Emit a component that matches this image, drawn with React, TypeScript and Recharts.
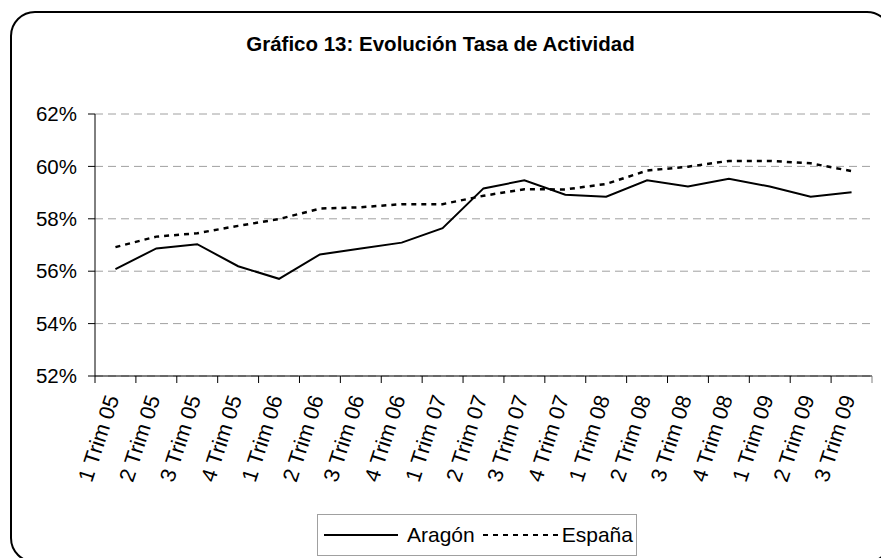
import React from 'react';
import {
  ComposedChart,
  Line,
  XAxis,
  YAxis,
  CartesianGrid,
  Legend,
} from 'recharts';

const categories = [
  '1 Trim 05', '2 Trim 05', '3 Trim 05', '4 Trim 05',
  '1 Trim 06', '2 Trim 06', '3 Trim 06', '4 Trim 06',
  '1 Trim 07', '2 Trim 07', '3 Trim 07', '4 Trim 07',
  '1 Trim 08', '2 Trim 08', '3 Trim 08', '4 Trim 08',
  '1 Trim 09', '2 Trim 09', '3 Trim 09',
];

const aragon = [
  56.08, 56.87, 57.03, 56.19, 55.71, 56.64, 56.87, 57.09, 57.64, 59.16,
  59.47, 58.92, 58.84, 59.47, 59.23, 59.53, 59.23, 58.84, 59.01,
];

const espana = [
  56.92, 57.32, 57.45, 57.73, 57.99, 58.39, 58.44, 58.56, 58.56, 58.88,
  59.13, 59.12, 59.33, 59.84, 59.99, 60.21, 60.21, 60.12, 59.82,
];

const yTicks = [52, 54, 56, 58, 60, 62];

const chartData = categories.map((name, i) => ({
  name,
  'Aragón': aragon[i],
  'España': espana[i],
}));

const FONT = '"Liberation Sans", Arial, sans-serif';
const W = 881;
const H = 558;
const MARGIN = { top: 114, right: 9, left: 0, bottom: 82 };
const Y_AXIS_W = 95;

function XTick(props: any) {
  const { x, y, payload } = props;
  const plotW = W - MARGIN.left - MARGIN.right - Y_AXIS_W;
  const half = payload.offset || plotW / categories.length / 2;
  const last = payload.index === categories.length - 1;
  const tx = x + 4;
  const ty = y + 22;
  return (
    <g>
      <line x1={x - half} x2={x - half} y1={y} y2={y + 7} stroke="#000" strokeWidth={1} />
      {last && <line x1={x + half} x2={x + half} y1={y} y2={y + 7} stroke="#808080" strokeWidth={1} />}
      <text
        x={tx}
        y={ty}
        textAnchor="end"
        transform={`rotate(-72, ${tx}, ${ty})`}
        fontSize={21.5}
        fontFamily={FONT}
        fill="#000"
      >
        {payload.value}
      </text>
    </g>
  );
}

function LegendBox() {
  return (
    <div
      style={{
        boxSizing: 'border-box',
        width: 320,
        height: 42,
        border: '1px solid #a0a0a0',
        display: 'flex',
        alignItems: 'center',
        fontFamily: FONT,
        fontSize: 21,
        color: '#000',
        paddingLeft: 6,
      }}
    >
      <svg width={74} height={10}>
        <line x1={0} x2={74} y1={5} y2={5} stroke="#000" strokeWidth={2} />
      </svg>
      <span style={{ marginLeft: 9 }}>Aragón</span>
      <svg width={76} height={10} style={{ marginLeft: 8 }}>
        <line x1={0} x2={76} y1={5} y2={5} stroke="#000" strokeWidth={2} strokeDasharray="5 5" />
      </svg>
      <span style={{ marginLeft: 3 }}>España</span>
    </div>
  );
}

export default function App() {
  return (
    <div style={{ position: 'absolute', left: 0, top: 0, width: W, height: H, overflow: 'hidden', background: '#fff' }}>
      <div
        style={{
          position: 'absolute',
          left: 10,
          top: 11,
          width: 882,
          height: 552,
          boxSizing: 'border-box',
          border: '2px solid #000',
          borderRadius: 25,
        }}
      />
      <div
        style={{
          position: 'absolute',
          left: 0,
          top: 32,
          width: W,
          textAlign: 'center',
          fontFamily: FONT,
          fontWeight: 'bold',
          fontSize: 20.5,
          lineHeight: '24px',
          color: '#000',
        }}
      >
        Gráfico 13: Evolución Tasa de Actividad
      </div>
      <div style={{ position: 'absolute', left: 0, top: 0 }}>
        <ComposedChart width={W} height={H} data={chartData} margin={MARGIN}>
          <CartesianGrid vertical={false} stroke="#a0a0a0" strokeDasharray="8 5" />
          <XAxis
            dataKey="name"
            scale="band"
            interval={0}
            height={100}
            axisLine={{ stroke: '#000', strokeWidth: 1 }}
            tickLine={false}
            tickSize={0}
            tickMargin={0}
            tick={<XTick />}
          />
          <XAxis
            xAxisId="top"
            orientation="top"
            dataKey="name"
            height={0}
            tick={false}
            tickLine={false}
            axisLine={{ stroke: '#808080', strokeWidth: 1 }}
          />
          <YAxis
            domain={[52, 62]}
            ticks={yTicks}
            width={Y_AXIS_W}
            tickFormatter={(v: number) => `${v}%`}
            axisLine={{ stroke: '#000', strokeWidth: 1 }}
            tickLine={{ stroke: '#000' }}
            tickSize={7}
            tickMargin={11}
            tick={{ fontSize: 20.5, fontFamily: FONT, fill: '#000' }}
            allowDataOverflow
          />
          <YAxis
            yAxisId="right"
            orientation="right"
            domain={[52, 62]}
            width={0}
            tick={false}
            tickLine={false}
            axisLine={{ stroke: '#808080', strokeWidth: 1 }}
          />
          <Line
            type="linear"
            dataKey="Aragón"
            stroke="#000"
            strokeWidth={2}
            dot={false}
            isAnimationActive={false}
          />
          <Line
            type="linear"
            dataKey="España"
            stroke="#000"
            strokeWidth={2.5}
            strokeDasharray="5 5"
            dot={false}
            isAnimationActive={false}
          />
          <Legend
            layout="horizontal"
            verticalAlign="middle"
            align="center"
            wrapperStyle={{ left: 317, top: 514, width: 320, height: 42 }}
            content={() => <LegendBox />}
          />
        </ComposedChart>
      </div>
    </div>
  );
}
